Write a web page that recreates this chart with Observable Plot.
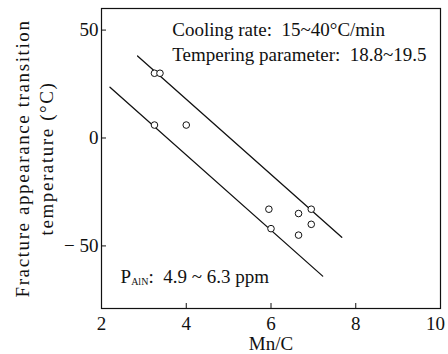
<!DOCTYPE html>
<html><head><meta charset="utf-8">
<script src="https://cdn.jsdelivr.net/npm/d3@7"></script>
<script src="https://cdn.jsdelivr.net/npm/@observablehq/plot@0.6"></script>
<style>
body{margin:0;background:#fff}
svg{font-family:"Liberation Serif","DejaVu Serif",serif}
</style>
</head><body><div id="chart"></div>
<script>
// Data
const mnC  = [3.25, 3.38, 3.25, 4.0, 5.95, 6.0, 6.65, 6.65, 6.95, 6.95];
const fatt = [30, 30, 6, 6, -33, -42, -35, -45, -33, -40];
const upperLineX = [2.85, 7.67];
const upperLineY = [38, -46];
const lowerLineX = [2.2, 7.22];
const lowerLineY = [23.5, -64];
const xTicks = [2, 4, 6, 8, 10];
const yTicks = [-50, 0, 50];
const noteText = ["Cooling rate:  15~40°C/min", "Tempering parameter:  18.8~19.5", "P_AlN:  4.9 ~ 6.3 ppm"];
const noteX = [3.67, 3.67, 2.45];
const noteY = [50, 38.4, -64.4];
const yLabelLines = ["Fracture appearance transition", "temperature (°C)"];
const xLabel = "Mn/C";

const points = mnC.map((x, i) => ({x, y: fatt[i]}));
const upper = upperLineX.map((x, i) => ({x, y: upperLineY[i]}));
const lower = lowerLineX.map((x, i) => ({x, y: lowerLineY[i]}));
const notes = noteText.map((t, i) => ({t, x: noteX[i], y: noteY[i]}));

const ink = "#111";
const plot = Plot.plot({
  width: 448, height: 354,
  marginLeft: 101, marginRight: 8, marginTop: 8, marginBottom: 46,
  x: {domain: [2, 10]},
  y: {domain: [-79, 60]},
  style: {fontFamily: '"Liberation Serif", serif', fontSize: "19px", color: ink, background: "white"},
  marks: [
    Plot.frame({stroke: ink, strokeWidth: 1.2}),
    Plot.axisX({ticks: xTicks, tickSize: -5, tickPadding: 13, label: null, fontSize: 19,
      text: null}),
    Plot.axisX({ticks: xTicks.slice(0, -1), tickSize: 0, tickPadding: 8, label: null, fontSize: 19}),
    Plot.axisX({ticks: xTicks.slice(-1), tickSize: 0, tickPadding: 8, label: null, fontSize: 19, dx: -5}),
    Plot.axisY({ticks: yTicks, tickSize: -5, tickPadding: 8, label: null, fontSize: 19,
      tickFormat: d => d < 0 ? "− " + Math.abs(d) : String(d)}),
    Plot.line(upper, {x: "x", y: "y", stroke: ink, strokeWidth: 1.3}),
    Plot.line(lower, {x: "x", y: "y", stroke: ink, strokeWidth: 1.3}),
    Plot.dot(points, {x: "x", y: "y", r: 3.3, stroke: ink, strokeWidth: 1, fill: "white"}),
    Plot.text(notes, {x: "x", y: "y", text: "t", textAnchor: "start", lineAnchor: "middle", fontSize: 19, fill: ink}),
    Plot.text([xLabel], {frameAnchor: "bottom", dy: 35, lineAnchor: "middle", fontSize: 19, fill: ink}),
    Plot.text([yLabelLines[0]], {frameAnchor: "left", dx: -79, rotate: -90, textAnchor: "middle", lineAnchor: "middle", fontSize: 19, fill: ink}),
    Plot.text([yLabelLines[1]], {frameAnchor: "left", dx: -55, rotate: -90, textAnchor: "middle", lineAnchor: "middle", fontSize: 19, fill: ink})
  ]
});

// letter spacing for y label, subscript for P_AlN
d3.select(plot).selectAll("text").each(function() {
  const s = this.textContent;
  if (yLabelLines.includes(s)) this.setAttribute("letter-spacing", "1.6px");
  if (s.startsWith("P_AlN")) {
    const rest = s.slice(5);
    const el = d3.select(this);
    el.text(null);
    el.append("tspan").text("P");
    el.append("tspan").attr("font-size", 10).attr("dy", 2).text("AlN");
    el.append("tspan").attr("dy", -2).text(rest);
  }
});
document.getElementById("chart").appendChild(plot);
</script>
</body></html>
